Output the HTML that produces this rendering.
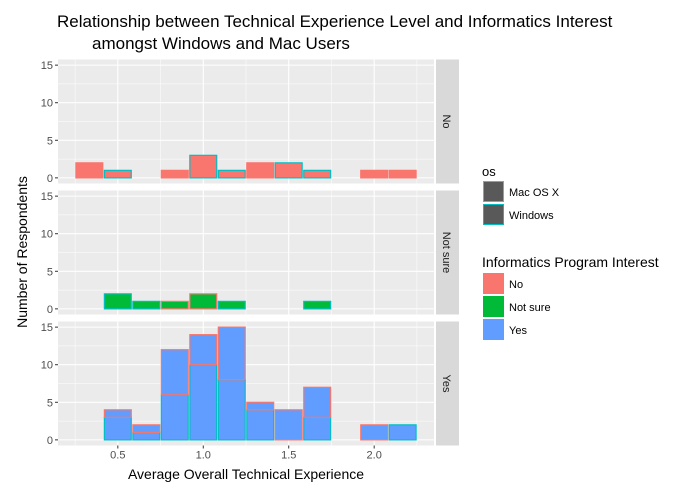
<!DOCTYPE html>
<html><head><meta charset="utf-8">
<style>
body{margin:0;background:#fff;}
svg{display:block;font-family:"Liberation Sans",Arial,sans-serif;}
</style></head>
<body>
<svg id="chart" width="688" height="488" viewBox="0 0 688 488">
<text x="57" y="27" font-size="17" fill="#000">Relationship between Technical Experience Level and Informatics Interest</text>
<text x="92" y="49" font-size="17" fill="#000">amongst Windows and Mac Users</text>
<text transform="translate(27,252) rotate(-90)" text-anchor="middle" font-size="14">Number of Respondents</text>
<text x="246" y="479" text-anchor="middle" font-size="14">Average Overall Technical Experience</text>
<g id="panels"></g>
<g>
<text x="482" y="176" font-size="13">os</text>
<rect x="483.5" y="181.5" width="20" height="20" fill="#595959" stroke="#F8766D" stroke-width="1"/>
<text x="509" y="196" font-size="11">Mac OS X</text>
<rect x="483.5" y="204.5" width="20" height="20" fill="#595959" stroke="#00BFC4" stroke-width="1"/>
<text x="509" y="219" font-size="11">Windows</text>
</g>
<g>
<text x="482" y="267" font-size="14">Informatics Program Interest</text>
<rect x="483" y="273" width="21" height="21" fill="#F8766D"/>
<text x="509" y="288" font-size="11">No</text>
<rect x="483" y="296" width="21" height="21" fill="#00BA38"/>
<text x="509" y="311" font-size="11">Not sure</text>
<rect x="483" y="319" width="21" height="21" fill="#619CFF"/>
<text x="509" y="334" font-size="11">Yes</text>
</g>
</svg>
<script>
const binCenters = [0.3333,0.5,0.6667,0.8333,1.0,1.1667,1.3333,1.5,1.6667,1.8333,2.0,2.1667];
const panels = ["No","Not sure","Yes"];
const noWin  = [0,1,0,0,3,1,0,2,1,0,0,0];
const noMac  = [2,0,0,1,0,0,2,0,0,0,1,1];
const nsWin  = [0,2,1,0,0,1,0,0,1,0,0,0];
const nsMac  = [0,0,0,1,2,0,0,0,0,0,0,0];
const yesWin = [0,3,1,6,10,8,4,0,3,0,0,2];
const yesMac = [0,1,1,6,4,7,1,4,4,0,2,0];
const xTicks = [0.5,1.0,1.5,2.0];
const xTickLabels = ["0.5","1.0","1.5","2.0"];
const yTicks = [0,5,10,15];

const winData=[noWin,nsWin,yesWin], macData=[noMac,nsMac,yesMac];
const fills=["#F8766D","#00BA38","#619CFF"];
const NS="http://www.w3.org/2000/svg";
const px0=58, px1=434, xmin=0.15, xmax=2.35;
const xs=v=>px0+(v-xmin)/(xmax-xmin)*(px1-px0);
const tops=[59.5,190.5,321.5], ph=124;
const binW=1/6;
const g=document.getElementById('panels');
function mk(tag,attrs,parent){const e=document.createElementNS(NS,tag);for(const k in attrs)e.setAttribute(k,attrs[k]);parent.appendChild(e);return e;}
panels.forEach((p,i)=>{
  const top=tops[i];
  const ys=v=>top+ph-(v+0.75)/16.5*ph;
  const pg=mk('g',{},g);
  
  
  mk('rect',{x:px0,y:top,width:px1-px0,height:ph,fill:"#EBEBEB"},pg);
  [0.25,0.75,1.25,1.75,2.25].forEach(v=>mk('line',{x1:xs(v),x2:xs(v),y1:top,y2:top+ph,stroke:"#fff","stroke-width":0.5},pg));
  [2.5,7.5,12.5].forEach(v=>mk('line',{x1:px0,x2:px1,y1:ys(v),y2:ys(v),stroke:"#fff","stroke-width":0.5},pg));
  xTicks.forEach(v=>mk('line',{x1:xs(v),x2:xs(v),y1:top,y2:top+ph,stroke:"#fff","stroke-width":1.1},pg));
  yTicks.forEach(v=>{
    mk('line',{x1:px0,x2:px1,y1:ys(v),y2:ys(v),stroke:"#fff","stroke-width":1.1},pg);
    mk('line',{x1:px0-3,x2:px0,y1:ys(v),y2:ys(v),stroke:"#333","stroke-width":1},pg);
    const t=mk('text',{x:px0-5,y:ys(v)+4,"text-anchor":"end","font-size":11,fill:"#4D4D4D"},pg);
    t.textContent=v;
    
    
  });
  binCenters.forEach((c,j)=>{
    const w=winData[i][j], m=macData[i][j];
    const x=xs(c-binW/2)+0.8, bw=xs(c+binW/2)-xs(c-binW/2)-1.6;
    if(w>0){const r=mk('rect',{x:x,y:ys(w),width:bw,height:ys(0)-ys(w),fill:fills[i],stroke:"#00BFC4","stroke-width":1.2},pg);
      
      }
    if(m>0){const r=mk('rect',{x:x,y:ys(w+m),width:bw,height:ys(w)-ys(w+m),fill:fills[i],stroke:"#F8766D","stroke-width":1.2},pg);
      
      }
  });
  mk('rect',{x:436,y:top,width:23,height:ph,fill:"#D9D9D9"},pg);
  const st=mk('text',{transform:`translate(443,${top+ph/2}) rotate(90)`,"text-anchor":"middle","font-size":11,fill:"#1A1A1A"},pg);
  st.textContent=p;
  
  
});
const bottom=tops[2]+ph;
xTicks.forEach((v,k)=>{
  mk('line',{x1:xs(v),x2:xs(v),y1:bottom,y2:bottom+3,stroke:"#333"},g);
  const t=mk('text',{x:xs(v),y:bottom+13,"text-anchor":"middle","font-size":11,fill:"#4D4D4D"},g);
  t.textContent=xTickLabels[k];
  
  
});
</script>
</body></html>
